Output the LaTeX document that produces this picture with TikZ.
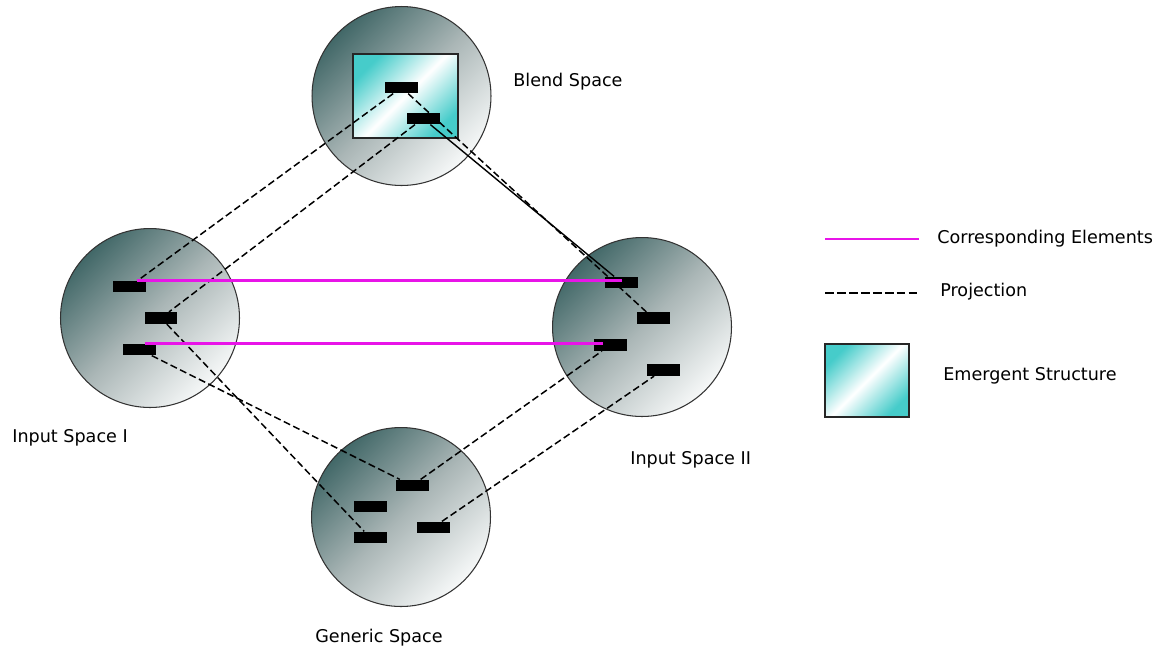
\documentclass[tikz,border=0pt]{standalone}
\usepackage{fontspec}
\setmainfont{DejaVu Sans}
\usetikzlibrary{positioning}

\definecolor{spacedark}{RGB}{66,104,104}
\definecolor{spacemid}{RGB}{170,182,182}
\definecolor{spacelight}{RGB}{246,248,248}
\definecolor{emergcyan}{RGB}{70,204,202}
\definecolor{corrpink}{RGB}{232,20,232}

\begin{document}
\begin{tikzpicture}[x=0.02cm, y=-0.02cm,
		space/.style={circle, draw=black!80, line width=0.6pt,
			minimum size=3.58cm, inner sep=0pt,
			top color=spacedark, bottom color=spacelight, middle color=spacemid,
			shading angle=45},
		emerg/.style={rectangle, draw=black!85, line width=0.6pt, inner sep=0pt,
			top color=emergcyan, bottom color=emergcyan, middle color=white,
			shading angle=45},
		bar/.style={rectangle, fill=black, minimum width=0.66cm,
			minimum height=0.23cm, inner sep=0pt},
		proj/.style={line width=0.85pt, dash pattern=on 4pt off 2pt},
		corr/.style={draw=corrpink, line width=1.3pt},
		lbl/.style={anchor=west, inner sep=0pt, font=\fontsize{10}{12}\selectfont}
	]
					\useasboundingbox (0,0) rectangle (1165,647);

					%% the four spaces
					\node[space] (blend) at (401.5, 96) {};
					\node[space] (inone) at (150, 318) {};
					\node[space] (intwo) at (642, 327) {};
					\node[space] (generic) at (401, 517) {};

					\node[emerg, minimum width=2.1cm, minimum height=1.68cm] (emerg) at (405.5, 96) {};

					%% elements
					\node[bar] (b1) at (401.5, 87.5) {};
					\node[bar] (b2) at (423, 118.5) {};

					\node[bar] (ia) at (129.5, 286.5) {};
					\node[bar] (ib) at (161, 318) {};
					\node[bar] (ic) at (139.5, 349.5) {};

					\node[bar] (iia) at (621.5, 282.5) {};
					\node[bar] (iib) at (653, 318) {};
					\node[bar] (iic) at (610.5, 345) {};
					\node[bar] (iid) at (663, 370) {};

					\node[bar] (ga) at (412, 485.5) {};
					\node[bar] (gb) at (370, 506.5) {};
					\node[bar] (gc) at (370, 537.5) {};
					\node[bar] (gd) at (433, 527.5) {};

					%% projections
					\draw[proj] (b1) -- (ia);
					\draw[proj] (b2) -- (ib);
					\draw[proj] (b1) -- (iib);
					\draw[line width=0.8pt] (b2) -- (iia);
					\draw[proj] (ib) -- (gc);
					\draw[proj] (ic) -- (ga);
					\draw[proj] (ga) -- (iic);
					\draw[proj] (gd) -- (iid);

					%% corresponding elements
					\draw[corr] ([xshift=0.15cm]ia.north) -- (ia.north -| iia.center);
					\draw[corr] ([xshift=0.1cm]ic.north) -- ([xshift=-0.15cm]ic.north -| iic.center);

					%% labels
					\node[lbl] (blendlbl) at (513, 82) {Blend Space};
					\node[lbl] (inonelbl) at (12, 438) {Input Space I};
					\node[lbl] (intwolbl) at (630, 460) {Input Space II};
					\node[lbl] (genericlbl) at (315, 638) {Generic Space};

					%% legend
					\coordinate (corra) at (825, 239);
					\coordinate (corrb) at (919, 239);
					\draw[corr] (corra) -- (corrb);
					\node[lbl] (corrlbl) at (937, 239) {Corresponding Elements};

					\coordinate (proja) at (825, 293);
					\coordinate (projb) at (919, 293);
					\draw[line width=0.7pt, dash pattern=on 5pt off 1.8pt] (proja) -- (projb);
					\node[lbl] (projlbl) at (940, 292) {Projection};

					\node[emerg, minimum width=1.68cm, minimum height=1.46cm] (emkey) at (867, 380.5) {};
					\node[lbl] (emlbl) at (943, 376) {Emergent Structure};
				\end{tikzpicture}
\end{document}
